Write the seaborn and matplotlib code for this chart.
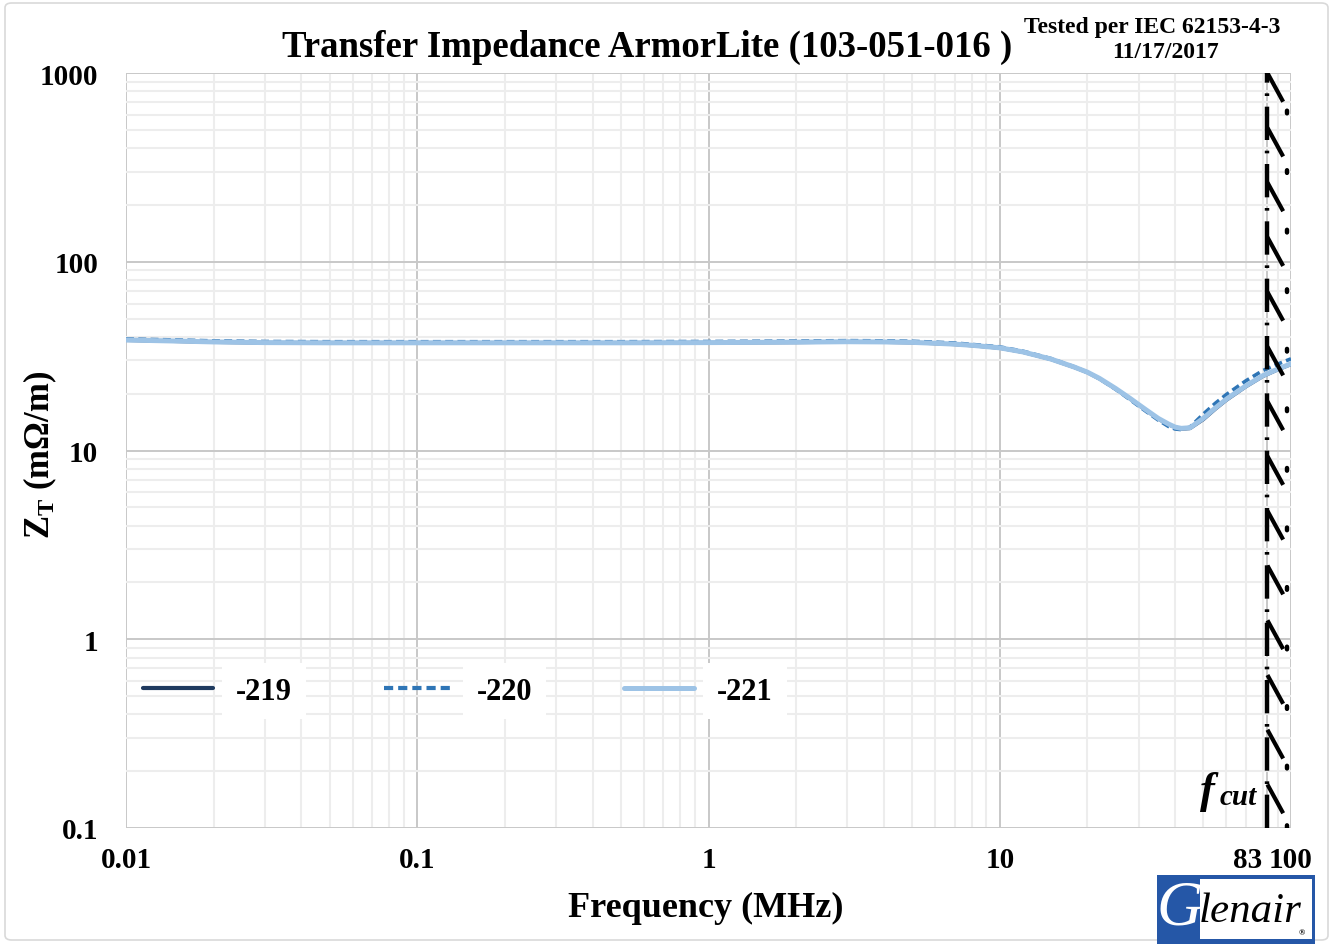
import numpy as np
import pandas as pd
import matplotlib
matplotlib.use("Agg")
import matplotlib.pyplot as plt
import matplotlib.transforms as mtransforms
from matplotlib.patches import Rectangle, FancyBboxPatch
from matplotlib.ticker import FixedLocator, NullFormatter
import seaborn as sns

# ---------------- data ----------------
freq_mhz = [0.01, 0.015, 0.02, 0.03, 0.05, 0.07, 0.1, 0.2, 0.5, 1, 2, 3, 4, 5, 6, 7, 8,
            10, 12, 15, 18, 20, 22, 25, 28, 30, 32, 35, 38, 40, 42, 45, 50, 55, 60, 70, 80, 90, 100]
zt_219 = [38.4, 37.9, 37.5, 37.2, 37.1, 37.1, 37.1, 37.1, 37.1, 37.2, 37.4, 37.6, 37.5, 37.3,
          36.9, 36.5, 36.0, 34.9, 33.2, 30.4, 27.6, 25.9, 24.0, 21.2, 18.8, 17.4, 16.2, 14.7,
          13.7, 13.3, 13.0, 13.1, 14.6, 16.6, 18.5, 21.8, 24.7, 26.8, 28.6]
zt_220 = [39.0, 38.5, 38.1, 37.8, 37.7, 37.7, 37.7, 37.7, 37.7, 37.8, 38.0, 38.2, 38.1, 37.9,
          37.5, 37.1, 36.5, 35.4, 33.6, 30.7, 27.8, 26.0, 24.0, 21.1, 18.6, 17.2, 16.0, 14.5,
          13.4, 13.0, 12.9, 13.3, 15.6, 17.8, 19.8, 23.4, 26.5, 28.7, 30.6]
zt_221 = [38.5, 38.0, 37.6, 37.3, 37.2, 37.2, 37.2, 37.2, 37.2, 37.3, 37.5, 37.7, 37.6, 37.4,
          37.0, 36.6, 36.1, 35.0, 33.3, 30.5, 27.7, 26.0, 24.1, 21.3, 18.9, 17.5, 16.3, 14.8,
          13.8, 13.3, 13.1, 13.2, 14.8, 16.8, 18.7, 22.0, 24.9, 27.0, 28.8]
series_names = ["-219", "-220", "-221"]
series_colors = ["#1F3A5F", "#2E75B6", "#9DC3E6"]
x_tick_vals = [0.01, 0.1, 1, 10, 83, 100]
x_tick_labels = ["0.01", "0.1", "1", "10", "83", "100"]
y_tick_vals = [0.1, 1, 10, 100, 1000]
y_tick_labels = ["0.1", "1", "10", "100", "1000"]
f_cut = 83

df = pd.DataFrame({
    "freq": freq_mhz * 3,
    "zt": zt_219 + zt_220 + zt_221,
    "series": sum([[n] * len(freq_mhz) for n in series_names], []),
})

# ---------------- style ----------------
sns.set_style("white")
plt.rcParams["font.family"] = ["Liberation Serif", "DejaVu Serif"]
plt.rcParams["font.weight"] = "bold"
plt.rcParams["text.color"] = "black"
plt.rcParams["xtick.color"] = "black"
plt.rcParams["ytick.color"] = "black"
plt.rcParams["xtick.labelcolor"] = "black"
plt.rcParams["ytick.labelcolor"] = "black"
plt.rcParams["mathtext.fontset"] = "custom"
plt.rcParams["mathtext.rm"] = "Liberation Serif:bold"
plt.rcParams["mathtext.bf"] = "Liberation Serif:bold"
plt.rcParams["mathtext.it"] = "Liberation Serif:bold:italic"

W, H = 1335, 945
fig = plt.figure(figsize=(W / 100, H / 100), dpi=100)
ax = fig.add_axes([126 / W, 1 - 829 / H, (1291 - 126) / W, (829 - 74) / H])

ax.set_xscale("log")
ax.set_yscale("log")

# curves
sns.lineplot(data=df, x="freq", y="zt", hue="series", style="series",
             palette=series_colors, hue_order=series_names, style_order=series_names,
             dashes={"-219": "", "-220": (2.2, 1.2), "-221": ""},
             linewidth=2.6, ax=ax, legend=False, sort=False)
for ln, lw in zip(ax.get_lines()[-3:], [2.6, 2.6, 3.6]):
    ln.set_linewidth(lw)
    ln.set_solid_capstyle("round")
ax.set_xlabel("")
ax.set_ylabel("")
ax.set_xlim(0.01, 100)
ax.set_ylim(0.1, 1000)

# grid
minor_x = [m * 10.0 ** e for e in range(-2, 2) for m in range(2, 10)]
minor_y = [m * 10.0 ** e for e in range(-1, 3) for m in range(2, 10)]
ax.xaxis.set_minor_locator(FixedLocator(minor_x))
ax.yaxis.set_minor_locator(FixedLocator(minor_y))
ax.xaxis.set_minor_formatter(NullFormatter())
ax.yaxis.set_minor_formatter(NullFormatter())
ax.grid(which="minor", color="#EDEDED", linewidth=1.5)
ax.grid(which="major", color="#C8C8C8", linewidth=1.4)
ax.set_axisbelow(True)
for s in ax.spines.values():
    s.set_visible(False)

ax.set_xticks(x_tick_vals)
ax.set_xticklabels(x_tick_labels)
ax.set_yticks(y_tick_vals)
ax.set_yticklabels(y_tick_labels)
ax.tick_params(which="both", length=0, labelcolor="black")
ax.tick_params(axis="x", labelsize=21, pad=13)
ax.tick_params(axis="y", labelsize=21, pad=20)
for lab in ax.get_xticklabels() + ax.get_yticklabels():
    lab.set_fontweight("bold")
# shift the "83" label left so it does not collide with "100"
lab83 = ax.get_xticklabels()[4]
lab83.set_transform(lab83.get_transform() + mtransforms.ScaledTranslation(-0.2, 0, fig.dpi_scale_trans))

# cut-off frequency band
ax.axvline(f_cut, color="black", lw=3.2, linestyle=(0, (7.5, 2.4, 0.6, 2.4)), zorder=5)
ax.axvline(97, color="black", lw=3.2, linestyle=(0, (0.6, 12.8)), zorder=5, dash_capstyle="round")
tops = np.geomspace(1000, 0.17, 14)
for t in tops:
    ax.plot([f_cut, 94], [t, t / 1.42], color="black", lw=3.0, zorder=5,
            solid_capstyle="butt", clip_on=True)

# legend
handles = [plt.Line2D([], [], color=series_colors[0], lw=3),
           plt.Line2D([], [], color=series_colors[1], lw=3, linestyle=(0, (2.2, 1.2))),
           plt.Line2D([], [], color=series_colors[2], lw=3.6)]
leg = ax.legend(handles, series_names, ncol=3, loc="center left",
                bbox_to_anchor=(0.0, (829 - 692) / 755), frameon=False,
                prop={"family": "Liberation Serif", "weight": "bold", "size": 22},
                handlelength=2.3, handletextpad=0.75, columnspacing=3.0,
                borderaxespad=0, borderpad=0.55)
for txt in leg.get_texts():
    txt.set_color("black")
    txt.set_bbox(dict(facecolor="white", edgecolor="none", pad=10))

# titles / labels
fig.text(647 / W, 1 - 47 / H, "Transfer Impedance ArmorLite (103-051-016 )",
         ha="center", va="center", fontsize=26.5, fontweight="bold", color="black")
fig.text(1152 / W, 1 - 27 / H, "Tested per IEC 62153-4-3", ha="center", va="center",
         fontsize=17, fontweight="bold", color="black")
fig.text(1165 / W, 1 - 53 / H, "11/17/2017", ha="center", va="center",
         fontsize=17, fontweight="bold", color="black")
fig.text(706 / W, 1 - 908 / H, "Frequency (MHz)", ha="center", va="center",
         fontsize=26, fontweight="bold", color="black")
fig.text(40 / W, 1 - 455 / H, r"Z$_{\mathrm{T}}$ (mΩ/m)", ha="center", va="center",
         rotation=90, fontsize=25, fontweight="bold", color="black")

# f_cut annotation
fig.text(1207 / W, 1 - 792 / H, "f", ha="center", va="center", fontsize=32,
         fontweight="bold", style="italic", color="black")
fig.text(1257 / W, 1 - 798 / H, "cut", ha="right", va="center", fontsize=21,
         fontweight="bold", style="italic", color="black")

# Glenair logo
fig.patches.append(Rectangle((1157 / W, 0), 158 / W, 69 / H, transform=fig.transFigure,
                             facecolor="#2557A7", edgecolor="none", zorder=1))
fig.patches.append(Rectangle((1200 / W, 5 / H), 112 / W, 60 / H, transform=fig.transFigure,
                             facecolor="white", edgecolor="none", zorder=2))
fig.text(1180 / W, 1 - 910 / H, "G", ha="center", va="center", fontsize=46,
         color="white", style="italic", fontweight="normal", zorder=3)
fig.text(1250 / W, 1 - 912 / H, "lenair", ha="center", va="center", fontsize=31,
         color="black", style="italic", fontweight="normal", zorder=3)
fig.text(1302 / W, 1 - 933 / H, "®", ha="center", va="center", fontsize=6,
         color="black", zorder=3)

# outer chart border
fig.patches.append(FancyBboxPatch((5 / W, 4 / H), 1 - 12 / W, 1 - 8 / H,
                                  boxstyle="round,pad=0,rounding_size=0.005",
                                  transform=fig.transFigure, facecolor="none",
                                  edgecolor="#D9D9D9", lw=1.2, zorder=0))

fig.savefig("out.png", dpi=100)
